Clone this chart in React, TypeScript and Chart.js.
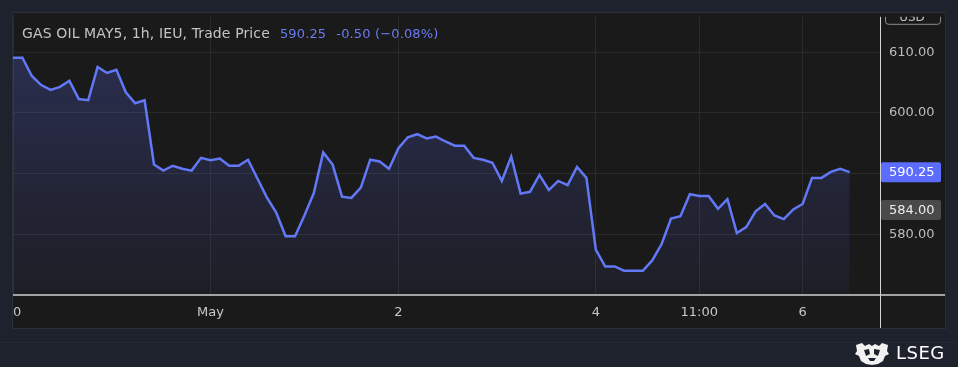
import React, { useEffect, useRef } from "react";
import { Chart, registerables } from "chart.js";

Chart.register(...registerables);

// ---- data (hourly closes) ----
const prices: number[] = [
  609.1, 609.1, 606.1, 604.6, 603.8, 604.3, 605.3, 602.3, 602.1, 607.6,
  606.6, 607.1, 603.4, 601.6, 602.1, 591.5, 590.5, 591.3, 590.8, 590.5,
  592.6, 592.2, 592.5, 591.3, 591.3, 592.3, 589.2, 586.1, 583.6, 579.7,
  579.7, 583.1, 586.8, 593.5, 591.5, 586.2, 586.0, 587.7, 592.3, 592.0,
  590.8, 594.2, 596.0, 596.5, 595.8, 596.1, 595.3, 594.6, 594.6, 592.6,
  592.3, 591.8, 588.8, 592.8, 586.7, 587.0, 589.8, 587.3, 588.8, 588.1,
  591.1, 589.3, 577.5, 574.7, 574.7, 574.0, 574.0, 574.0, 575.7, 578.4,
  582.6, 583.0, 586.6, 586.3, 586.3, 584.2, 585.8, 580.2, 581.2, 583.8,
  585.0, 583.1, 582.5, 584.1, 585.0, 589.3, 589.3, 590.3, 590.8, 590.25,
];
const xTickIndex: number[] = [0, 21, 41, 62, 73, 84];
const xTickLabel: string[] = ["30", "May", "2", "4", "11:00", "6"];
const yTicks: number[] = [580, 590, 600, 610];
const yMin = 570;
const yMax = 615.85;
const lastPrice = 590.25;
const refPrice = 584.0;
const xMaxIndex = 92.23;

const FONT = '"DejaVu Sans", "Open Sans", sans-serif';
const LINE = "#6278f7";

function roundRect(ctx: CanvasRenderingContext2D, x: number, y: number, w: number, h: number, r: number) {
  ctx.beginPath();
  ctx.moveTo(x + r, y);
  ctx.lineTo(x + w - r, y);
  ctx.quadraticCurveTo(x + w, y, x + w, y + r);
  ctx.lineTo(x + w, y + h - r);
  ctx.quadraticCurveTo(x + w, y + h, x + w - r, y + h);
  ctx.lineTo(x + r, y + h);
  ctx.quadraticCurveTo(x, y + h, x, y + h - r);
  ctx.lineTo(x, y + r);
  ctx.quadraticCurveTo(x, y, x + r, y);
  ctx.closePath();
}

const overlayPlugin = {
  id: "overlay",
  afterDraw(chart: any) {
    const ctx: CanvasRenderingContext2D = chart.ctx;
    const { left, top, right, bottom } = chart.chartArea;
    const panelRight = chart.width - 13;
    const panelBottom = bottom + 33;
    const ys = chart.scales.y;
    ctx.save();
    // bottom axis line
    ctx.strokeStyle = "#a3a3a3";
    ctx.lineWidth = 2;
    ctx.beginPath();
    ctx.moveTo(left, bottom);
    ctx.lineTo(panelRight, bottom);
    ctx.stroke();
    // right separator
    ctx.strokeStyle = "#d4d4d4";
    ctx.lineWidth = 1;
    ctx.beginPath();
    ctx.moveTo(right + 0.5, top);
    ctx.lineTo(right + 0.5, panelBottom);
    ctx.stroke();

    // clipped first label "30"
    ctx.save();
    ctx.beginPath();
    ctx.rect(left, bottom, right - left, 33);
    ctx.clip();
    ctx.fillStyle = "#c8c8c8";
    ctx.font = `13px ${FONT}`;
    ctx.textAlign = "center";
    ctx.textBaseline = "middle";
    ctx.fillText(xTickLabel[0], chart.scales.x.getPixelForValue(xTickIndex[0]), bottom + 18);
    ctx.restore();

    // USD box (clipped at panel top)
    ctx.save();
    ctx.beginPath();
    ctx.rect(right + 1, top, panelRight - right - 1, bottom - top);
    ctx.clip();
    ctx.strokeStyle = "#8c8c8c";
    ctx.lineWidth = 1;
    roundRect(ctx, right + 5.5, top - 9.5, 55, 17, 3);
    ctx.stroke();
    ctx.fillStyle = "#c0c0c0";
    ctx.font = `12px ${FONT}`;
    ctx.textAlign = "center";
    ctx.textBaseline = "middle";
    ctx.fillText("USD", right + 32, top + 1);
    ctx.restore();

    // price tags
    const tag = (v: number, bg: string, fg: string) => {
      const py = ys.getPixelForValue(v);
      ctx.fillStyle = bg;
      roundRect(ctx, right + 1, py - 10, 60, 20, 2);
      ctx.fill();
      ctx.fillStyle = fg;
      ctx.font = `13px ${FONT}`;
      ctx.textAlign = "left";
      ctx.textBaseline = "middle";
      ctx.fillText(v.toFixed(2), right + 9, py + 0.5);
    };
    tag(refPrice, "#4a4a4a", "#ececec");
    tag(lastPrice, "#5b6cff", "#ffffff");
    ctx.restore();
  },
};

export default function App() {
  const ref = useRef<HTMLCanvasElement | null>(null);

  useEffect(() => {
    if (!ref.current) return;
    const data = prices.map((p, i) => ({ x: i, y: p }));
    const chart = new Chart(ref.current, {
      type: "line",
      data: {
        datasets: [
          {
            data,
            borderColor: LINE,
            borderWidth: 2.5,
            pointRadius: 0,
            tension: 0,
            fill: "start",
            backgroundColor: (c: any) => {
              const area = c.chart.chartArea;
              if (!area) return "rgba(98,115,255,0.15)";
              const g = c.chart.ctx.createLinearGradient(0, area.top, 0, area.bottom);
              g.addColorStop(0, "rgba(98,115,255,0.26)");
              g.addColorStop(1, "rgba(98,115,255,0.05)");
              return g;
            },
          },
        ],
      },
      options: {
        animation: false,
        responsive: false,
        devicePixelRatio: 1,
        layout: { padding: { left: 13, top: 13, right: 13, bottom: 39 } },
        plugins: { legend: { display: false }, tooltip: { enabled: false } },
        scales: {
          x: {
            type: "linear",
            min: 0,
            max: xMaxIndex,
            border: { display: false },
            grid: { color: "#2a2a2a", lineWidth: 1, drawTicks: false },
            afterBuildTicks: (s: any) => {
              s.ticks = xTickIndex.map((v) => ({ value: v }));
            },
            afterFit: (s: any) => {
              s.height = 33;
            },
            ticks: {
              autoSkip: false,
              maxRotation: 0,
              padding: 10,
              color: "#c8c8c8",
              font: { family: FONT, size: 13 },
              callback: (v: any) => {
                const k = xTickIndex.indexOf(Number(v));
                return k <= 0 ? "" : xTickLabel[k];
              },
            },
          },
          y: {
            position: "right",
            min: yMin,
            max: yMax,
            border: { display: false },
            grid: { color: "#2a2a2a", lineWidth: 1, drawTicks: false },
            afterBuildTicks: (s: any) => {
              s.ticks = yTicks.map((v) => ({ value: v }));
            },
            afterFit: (s: any) => {
              s.width = 65;
            },
            ticks: {
              padding: 9,
              color: "#bdbdbd",
              font: { family: FONT, size: 13 },
              callback: (v: any) => (Number(v) === 590 ? "" : Number(v).toFixed(2)),
            },
          },
        },
      },
      plugins: [overlayPlugin],
    } as any);
    return () => chart.destroy();
  }, []);

  return (
    <div
      style={{
        position: "fixed",
        left: 0,
        top: 0,
        width: 958,
        height: 367,
        background: "#1e222d",
        overflow: "hidden",
        fontFamily: FONT,
      }}
    >
      <div
        style={{
          position: "absolute",
          left: 12,
          top: 12,
          width: 934,
          height: 317,
          boxSizing: "border-box",
          border: "1px solid #2a2e39",
          background: "#1a1a1a",
        }}
      />
      <div style={{ position: "absolute", left: 0, top: 342, width: 958, height: 1, background: "#262a36" }} />
      <canvas ref={ref} width={958} height={367} style={{ position: "absolute", left: 0, top: 0, width: 958, height: 367 }} />
      <div
        style={{
          position: "absolute",
          left: 22,
          top: 23,
          fontSize: 14,
          lineHeight: "20px",
          color: "#c4c4c4",
          whiteSpace: "pre",
        }}
      >
        <span style={{ letterSpacing: 0.12 }}>GAS OIL MAY5, 1h, IEU, Trade Price</span>
        <span style={{ color: "#6a7cf2", marginLeft: 10, fontSize: 13, letterSpacing: 0.15 }}>590.25</span>
        <span style={{ color: "#6a7cf2", marginLeft: 10, fontSize: 13, letterSpacing: 0.15 }}>-0.50 (−0.08%)</span>
      </div>
      <svg
        style={{ position: "absolute", left: 853, top: 342 }}
        width={38}
        height={24}
        viewBox="0 0 38 24"
      >
        <path
          d="M3 3 L9 1 L12 4 L16 2 L19 4 L22 2 L26 4 L29 1 L35 3 L34 9 L36 12 L32 14 L30 19 L25 22 L19 23 L13 22 L8 19 L6 14 L2 12 L4 9 Z"
          fill="#f2f2f2"
        />
        <path d="M11 8 L16 7 L17 12 L13 14 Z M21 7 L27 8 L25 14 L21 12 Z M15 16 L23 16 L21 19 L17 19 Z" fill="#1e222d" />
      </svg>
      <div
        style={{
          position: "absolute",
          left: 896,
          top: 341,
          fontSize: 18,
          color: "#ffffff",
          lineHeight: "24px",
          letterSpacing: 0.5,
        }}
      >
        LSEG
      </div>
    </div>
  );
}
